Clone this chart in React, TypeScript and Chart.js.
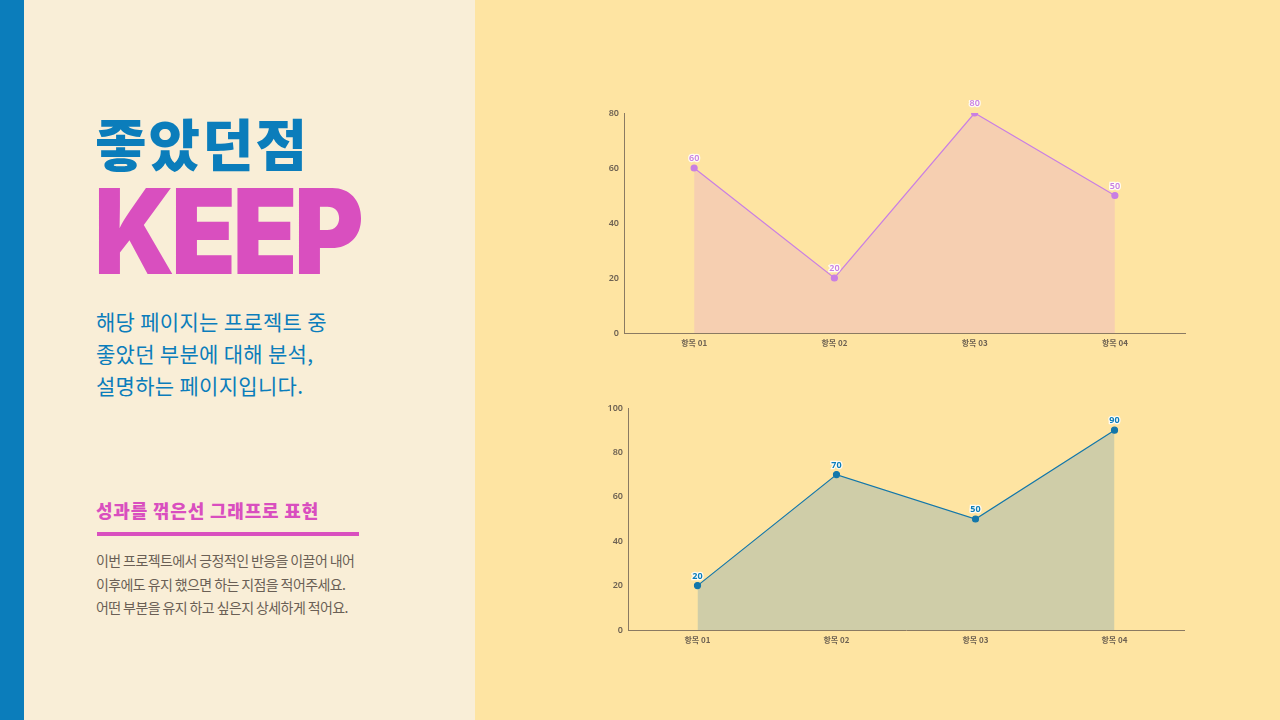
import { useEffect, useRef } from 'react';
import { Chart, ChartConfiguration, registerables } from 'chart.js';

Chart.register(...registerables);

const categories = ['항목 01', '항목 02', '항목 03', '항목 04'];
const keepValues = [60, 20, 80, 50];
const growthValues = [20, 70, 50, 90];
const topTicksMax = 80;
const bottomTicksMax = 100;

const BLUE = '#0b7dbb';
const PINK = '#d94fbf';
const AXIS = '#8a7a62';
const TICK = '#6e6253';

// draws the value above each point, white halo behind
const valueLabels = {
  id: 'valueLabels',
  afterDatasetsDraw(chart: any) {
    const ctx = chart.ctx;
    chart.data.datasets.forEach((ds: any, i: number) => {
      const meta = chart.getDatasetMeta(i);
      meta.data.forEach((pt: any, j: number) => {
        ctx.save();
        ctx.font = `${ds.labelWeight} 9px "Noto Sans", "Noto Sans CJK KR", sans-serif`;
        ctx.textAlign = 'center';
        ctx.textBaseline = 'bottom';
        ctx.lineWidth = 2.5;
        ctx.strokeStyle = 'rgba(255,255,255,0.85)';
        ctx.strokeText(String(ds.data[j]), pt.x, pt.y - 5);
        ctx.fillStyle = ds.labelColor;
        ctx.fillText(String(ds.data[j]), pt.x, pt.y - 5);
        ctx.restore();
      });
    });
  },
};

function makeConfig(
  values: number[],
  max: number,
  line: string,
  fill: string,
  labelColor: string,
  labelWeight: string,
  yWidth: number
): ChartConfiguration {
  return {
    type: 'line',
    data: {
      labels: categories,
      datasets: [
        {
          data: values,
          borderColor: line,
          backgroundColor: fill,
          pointBackgroundColor: line,
          pointBorderColor: line,
          pointRadius: 3,
          borderWidth: 1.2,
          fill: 'origin',
          tension: 0,
          labelColor,
          labelWeight,
        } as any,
      ],
    },
    options: {
      responsive: true,
      maintainAspectRatio: false,
      animation: false,
      layout: { padding: { top: 13, right: 10, left: 0, bottom: 0 } },
      plugins: {
        legend: { display: false },
        tooltip: { enabled: false },
      },
      scales: {
        x: {
          offset: true,
          grid: { display: false, drawTicks: false },
          border: { color: AXIS, width: 1 },
          ticks: {
            color: TICK,
            padding: 5,
            font: { size: 8, family: '"Noto Sans CJK KR", sans-serif', weight: 'bold' },
          },
          afterFit: (scale: any) => {
            scale.height = 20;
          },
        },
        y: {
          min: 0,
          max,
          grid: { display: false, drawTicks: false },
          border: { color: AXIS, width: 1 },
          ticks: {
            stepSize: 20,
            color: TICK,
            padding: 5,
            font: { size: 9, family: '"Noto Sans", sans-serif', weight: 600 },
          },
          afterFit: (scale: any) => {
            scale.width = yWidth;
          },
        },
      },
    },
    plugins: [valueLabels],
  };
}

function LineBox({ config, style }: { config: ChartConfiguration; style: React.CSSProperties }) {
  const ref = useRef<HTMLCanvasElement>(null);
  useEffect(() => {
    if (!ref.current) return;
    const chart = new Chart(ref.current, config);
    return () => chart.destroy();
  }, []);
  return (
    <div style={{ position: 'absolute', ...style }}>
      <canvas ref={ref} />
    </div>
  );
}

export default function App() {
  const topConfig = makeConfig(keepValues, topTicksMax, '#c97fe3', '#f6cfb1', '#c97fe3', '600', 34);
  const bottomConfig = makeConfig(growthValues, bottomTicksMax, '#1377aa', '#cfcda8', BLUE, 'bold', 38);

  return (
    <div
      style={{
        position: 'fixed',
        inset: 0,
        width: 1280,
        height: 720,
        overflow: 'hidden',
        fontFamily: '"Noto Sans CJK KR", "Noto Sans", sans-serif',
      }}
    >
      <div style={{ position: 'absolute', left: 0, top: 0, width: 24, height: 720, background: BLUE }} />
      <div style={{ position: 'absolute', left: 24, top: 0, width: 451, height: 720, background: '#f9eed7' }} />
      <div style={{ position: 'absolute', left: 475, top: 0, width: 805, height: 720, background: '#fee4a2' }} />

      <div
        style={{
          position: 'absolute',
          left: 95,
          top: 107,
          fontSize: 56,
          fontWeight: 900,
          color: BLUE,
          letterSpacing: '2px',
          lineHeight: '70px',
        }}
      >
        좋았던점
      </div>
      <div
        style={{
          position: 'absolute',
          left: 94,
          top: 166,
          fontFamily: 'Inter, Roboto, sans-serif',
          fontSize: 118,
          fontWeight: 900,
          color: PINK,
          letterSpacing: '-4px',
          lineHeight: '130px',
          transform: 'scaleX(0.9)',
          transformOrigin: 'left center',
        }}
      >
        KEEP
      </div>
      <div
        style={{
          position: 'absolute',
          left: 96,
          top: 305,
          fontSize: 21,
          color: BLUE,
          lineHeight: '32px',
          letterSpacing: '0.3px',
        }}
      >
        해당 페이지는 프로젝트 중
        <br />
        좋았던 부분에 대해 분석,
        <br />
        설명하는 페이지입니다.
      </div>

      <div
        style={{
          position: 'absolute',
          left: 96,
          top: 497,
          fontSize: 18,
          fontWeight: 900,
          color: PINK,
          letterSpacing: '0.8px',
          lineHeight: '26px',
        }}
      >
        성과를 꺾은선 그래프로 표현
      </div>
      <div style={{ position: 'absolute', left: 97, top: 532, width: 262, height: 4, background: PINK }} />
      <div
        style={{
          position: 'absolute',
          left: 96,
          top: 549,
          fontSize: 14,
          color: '#6a5f55',
          lineHeight: '23.5px',
          letterSpacing: '-0.6px',
        }}
      >
        이번 프로젝트에서 긍정적인 반응을 이끌어 내어
        <br />
        이후에도 유지 했으면 하는 지점을 적어주세요.
        <br />
        어떤 부분을 유지 하고 싶은지 상세하게 적어요.
      </div>

      <LineBox config={topConfig} style={{ left: 590, top: 100, width: 605, height: 253 }} />
      <LineBox config={bottomConfig} style={{ left: 590, top: 395, width: 604, height: 255 }} />
    </div>
  );
}
